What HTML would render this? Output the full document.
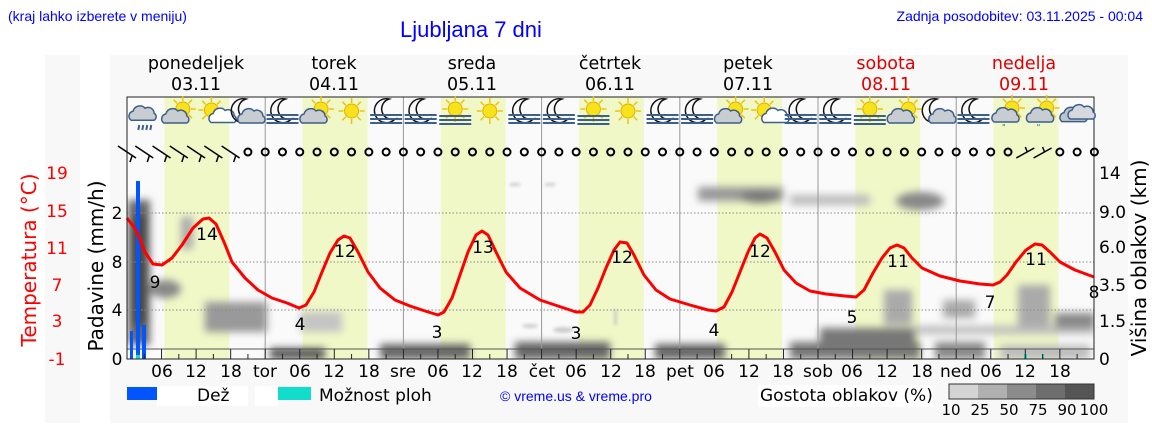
<!DOCTYPE html>
<html><head><meta charset="utf-8">
<style>
html,body{margin:0;padding:0;background:#fff;}
svg{display:block;font-family:"DejaVu Sans","Liberation Sans",sans-serif;}
.t{font-family:"Liberation Sans",sans-serif;}
</style></head><body>
<svg width="1152" height="443" viewBox="0 0 1152 443" xmlns="http://www.w3.org/2000/svg">
<defs>
<filter id="bl" x="-30%" y="-30%" width="160%" height="160%"><feGaussianBlur stdDeviation="4"/></filter>
<filter id="bl2" x="-30%" y="-30%" width="160%" height="160%"><feGaussianBlur stdDeviation="1.5"/></filter>
<clipPath id="pc"><rect x="127" y="97" width="967" height="262"/></clipPath>
</defs>
<rect x="0" y="0" width="1152" height="443" fill="#fff"/>
<rect x="45" y="55" width="35" height="368" fill="#f8f8f8"/>
<rect x="110" y="55" width="1018" height="368" fill="#f8f8f8"/>
<text x="8" y="21" class="t" font-size="14" fill="#0000ff">(kraj lahko izberete v meniju)</text>
<text x="400" y="37" class="t" font-size="22" fill="#0000ff">Ljubljana 7 dni</text>
<text x="1143" y="21" class="t" font-size="14" fill="#0000ff" text-anchor="end">Zadnja posodobitev: 03.11.2025 - 00:04</text>
<g font-size="17.5" text-anchor="middle" fill="#000">
<text x="196" y="69">ponedeljek</text><text x="196" y="90">03.11</text>
<text x="334" y="69">torek</text><text x="334" y="90">04.11</text>
<text x="472" y="69">sreda</text><text x="472" y="90">05.11</text>
<text x="610" y="69">četrtek</text><text x="610" y="90">06.11</text>
<text x="748" y="69">petek</text><text x="748" y="90">07.11</text>
<text x="886" y="69" fill="#e00000">sobota</text><text x="886" y="90" fill="#e00000">08.11</text>
<text x="1024" y="69" fill="#e00000">nedelja</text><text x="1024" y="90" fill="#e00000">09.11</text>
</g>
<rect x="127" y="97" width="967" height="262" fill="#fafafa"/>
<g fill="#f0f8c8" id="yb"></g>
<g clip-path="url(#pc)">
<g filter="url(#bl)">
<rect x="128" y="200" width="22" height="145" fill="#666"/>
<rect x="132" y="215" width="14" height="110" fill="#444"/>
<ellipse cx="165" cy="289" rx="16" ry="9" fill="#888"/>
<rect x="181" y="217" width="12" height="32" fill="#aaa"/>
<rect x="205" y="302" width="62" height="30" fill="#999"/>
<rect x="300" y="312" width="42" height="20" fill="#c4c4c4"/>
<rect x="698" y="187" width="85" height="14" fill="#999"/>
<ellipse cx="760" cy="197" rx="20" ry="6" fill="#777"/>
<rect x="790" y="195" width="80" height="10" fill="#bbb"/>
<ellipse cx="920" cy="201" rx="24" ry="9" fill="#888"/>
<rect x="884" y="290" width="28" height="35" fill="#aaa"/>
<rect x="943" y="300" width="32" height="18" fill="#aaa"/>
<rect x="1018" y="285" width="32" height="45" fill="#aaa"/>
<rect x="820" y="328" width="95" height="20" fill="#777"/>
<rect x="915" y="326" width="180" height="8" fill="#bbb"/>
<rect x="1055" y="313" width="40" height="15" fill="#888"/>
<rect x="270" y="348" width="55" height="11" fill="#555"/>
<rect x="380" y="344" width="90" height="15" fill="#666"/>
<rect x="515" y="342" width="95" height="17" fill="#666"/>
<rect x="655" y="344" width="70" height="15" fill="#666"/>
<rect x="790" y="342" width="130" height="17" fill="#777"/>
<rect x="935" y="342" width="50" height="17" fill="#888"/>
<rect x="1000" y="345" width="90" height="14" fill="#bbb"/>
</g>
<g filter="url(#bl2)" fill="#ccc">
<rect x="510" y="183" width="10" height="3"/><rect x="545" y="183" width="10" height="3"/>
<ellipse cx="530" cy="326" rx="8" ry="2"/><ellipse cx="563" cy="330" rx="10" ry="3"/>
<rect x="614" y="309" width="3" height="16"/>
</g>
</g>
<g stroke="#888" stroke-dasharray="1.5,2" stroke-width="1">
<line x1="127" y1="213" x2="1094" y2="213"/><line x1="127" y1="262" x2="1094" y2="262"/><line x1="127" y1="310" x2="1094" y2="310"/>
</g>
<g stroke="#999" stroke-width="1" id="vl"></g>
<line x1="127" y1="349" x2="1094" y2="349" stroke="#555"/>
<rect x="130" y="331" width="3" height="28" fill="#0055ff"/>
<rect x="136" y="181" width="4" height="178" fill="#0055ff"/>
<rect x="142" y="325" width="4" height="34" fill="#0055ff"/>
<rect x="136" y="355" width="4" height="4" fill="#11ddcc"/>
<rect x="1024" y="354" width="3" height="5" fill="#11ddcc"/>
<rect x="1042" y="354" width="2" height="5" fill="#11ddcc"/>
<polyline fill="none" stroke="#ff0000" stroke-width="3" stroke-linejoin="round" points="127,218 136,230 145,252 153,264 162,265 172,258 182,245 193,228 203,219 209,218 216,224 224,242 232,262 245,278 258,290 272,298 287,303 299,308 306,305 314,292 322,272 330,253 338,240 344,236 350,238 358,252 368,272 380,288 395,300 410,306 425,311 438,315 444,312 452,298 460,275 468,252 476,235 482,231 488,235 496,252 506,272 520,288 540,300 558,306 576,312 583,312 590,305 598,288 606,268 614,250 620,242 627,243 634,255 644,275 656,290 670,299 690,305 708,310 716,311 724,307 732,292 740,272 748,252 755,238 760,234 767,238 775,252 784,270 796,283 810,291 826,294 845,296 856,297 864,290 873,273 882,258 890,248 897,245 904,248 912,258 922,268 940,276 960,281 980,284 993,285 1000,282 1007,275 1016,262 1026,250 1035,244 1042,245 1050,252 1060,262 1075,270 1094,277"/>
<g font-size="17" text-anchor="middle" fill="#000">
<text x="207" y="240">14</text><text x="345" y="257">12</text><text x="483" y="253">13</text><text x="622" y="263">12</text><text x="760" y="257">12</text><text x="898" y="267">11</text><text x="1036" y="265">11</text>
<text x="155" y="288">9</text><text x="300" y="330">4</text><text x="437" y="338">3</text><text x="576" y="339">3</text><text x="714" y="336">4</text><text x="852" y="323">5</text><text x="990" y="308">7</text><text x="1094" y="298">8</text>
</g>
<rect x="127" y="97" width="967" height="262" fill="none" stroke="#222" stroke-width="1"/>
<g stroke="#222" id="tk"></g>
<g font-size="17" fill="#ff0000" text-anchor="middle">
<text x="57" y="179">19</text><text x="57" y="217">15</text><text x="57" y="254">11</text><text x="57" y="291">7</text><text x="57" y="327">3</text><text x="57" y="365">-1</text>
</g>
<text transform="translate(36,260) rotate(-90)" font-size="20" fill="#ff0000" text-anchor="middle">Temperatura (°C)</text>
<g font-size="17" fill="#000" text-anchor="middle">
<text x="117" y="219">2</text><text x="117" y="268">8</text><text x="117" y="316">4</text><text x="117" y="365">0</text>
</g>
<text transform="translate(103,266) rotate(-90)" font-size="20" fill="#000" text-anchor="middle">Padavine (mm/h)</text>
<g font-size="17" fill="#000">
<text x="1099" y="179">14</text><text x="1099" y="218">9.0</text><text x="1099" y="253">6.0</text><text x="1099" y="291">3.5</text><text x="1099" y="327">1.5</text><text x="1099" y="365">0</text>
</g>
<text transform="translate(1146,258) rotate(-90)" font-size="20" fill="#000" text-anchor="middle">Višina oblakov (km)</text>
<g font-size="17" fill="#000" text-anchor="middle">
<text x="162" y="377">06</text><text x="196" y="377">12</text><text x="231" y="377">18</text><text x="265" y="377">tor</text>
<text x="300" y="377">06</text><text x="334" y="377">12</text><text x="369" y="377">18</text><text x="403" y="377">sre</text>
<text x="438" y="377">06</text><text x="472" y="377">12</text><text x="507" y="377">18</text><text x="542" y="377">čet</text>
<text x="576" y="377">06</text><text x="611" y="377">12</text><text x="645" y="377">18</text><text x="680" y="377">pet</text>
<text x="714" y="377">06</text><text x="749" y="377">12</text><text x="783" y="377">18</text><text x="818" y="377">sob</text>
<text x="852" y="377">06</text><text x="887" y="377">12</text><text x="922" y="377">18</text><text x="956" y="377">ned</text>
<text x="991" y="377">06</text><text x="1025" y="377">12</text><text x="1060" y="377">18</text>
</g>
<rect x="127" y="387" width="61" height="13" fill="#0055ff"/>
<rect x="157" y="386" width="91" height="20" fill="#fff"/>
<text x="197" y="401" font-size="17">Dež</text>
<rect x="255" y="386" width="23" height="20" fill="#fff"/>
<rect x="278" y="387" width="33" height="13" fill="#11ddcc"/>
<text x="319" y="401" font-size="17">Možnost ploh</text>
<text x="500" y="401" class="t" font-size="14" fill="#0000ff">© vreme.us &amp; vreme.pro</text>
<rect x="758" y="385" width="175" height="22" fill="#fff"/>
<text x="760" y="401" font-size="17">Gostota oblakov (%)</text>
<rect x="949" y="384" width="29" height="15" fill="#d4d4d4"/><rect x="978" y="384" width="29" height="15" fill="#b0b0b0"/><rect x="1007" y="384" width="29" height="15" fill="#8c8c8c"/><rect x="1036" y="384" width="29" height="15" fill="#6e6e6e"/><rect x="1065" y="384" width="29" height="15" fill="#555"/>
<rect x="949" y="384" width="145" height="15" fill="none" stroke="#333"/>
<g font-size="15" text-anchor="middle"><text x="951" y="415">10</text><text x="980" y="415">25</text><text x="1009" y="415">50</text><text x="1038" y="415">75</text><text x="1067" y="415">90</text><text x="1094" y="415">100</text></g>
<g id="ic"></g>
<g id="wd" fill="none" stroke="#000" stroke-width="2"></g>
<script>
var D=138.2,X0=127,ns="http://www.w3.org/2000/svg";
function el(p,t,a){var e=document.createElementNS(ns,t);for(var k in a)e.setAttribute(k,a[k]);document.getElementById(p).appendChild(e);return e;}
for(var d=0;d<7;d++){el("yb","rect",{x:X0+D*d+D*0.27,y:97,width:D*0.47,height:262});
 if(d>0)el("vl","line",{x1:X0+D*d,y1:97,x2:X0+D*d,y2:359});}
for(var k=1;k<56;k++){var x=X0+D*k/8;el("tk","line",{x1:x,y1:359,x2:x,y2:k%2?354:349});}
for(var k=0;k<57;k++){var x=X0+D*k/8;
 if(k<7){el("wd","line",{x1:x-9,y1:146,x2:x+9,y2:158,"stroke-width":1.5});el("wd","line",{x1:x+5,y1:156,x2:x+3,y2:162,"stroke-width":1.5});}
 else if(k==52||k==53){el("wd","line",{x1:x-9,y1:158,x2:x+9,y2:148,"stroke-width":1.5});el("wd","line",{x1:x+2,y1:152,x2:x,y2:147,"stroke-width":1.5});}
 else el("wd","circle",{cx:x,cy:152,r:3.5});}
var T="R,SC,Sc,MC,MF,SC,S,MF,MF,SF,S,MF,MF,SF,S,MF,MF,SC,Sc,MF,MF,SF,SC,MC,MF,SR,SR,C".split(",");
function sun(x,y){for(var a=0;a<8;a++){var r=a*Math.PI/4;el("ic","line",{x1:x+Math.cos(r)*8,y1:y+Math.sin(r)*8,x2:x+Math.cos(r)*13,y2:y+Math.sin(r)*13,stroke:"#f2c200","stroke-width":1.5});}
 el("ic","circle",{cx:x,cy:y,r:7,fill:"#f7e21b",stroke:"#e0b000"});}
function cloud(x,y,s,f){el("ic","path",{d:"M"+(x-11*s)+","+(y+6*s)+" a5,5 0 0 1 2,-9 a7,7 0 0 1 12,-3 a6,6 0 0 1 9,5 a4,4 0 0 1 0,7 z",fill:f||"#c8cdd2",stroke:"#3d5f8c","stroke-width":1.5});}
function moon(x,y){el("ic","path",{d:"M"+(x+3)+","+(y-12)+" a12,12 0 1 0 6,20 a10,10 0 0 1 -6,-20 z",fill:"none",stroke:"#111","stroke-width":1.5});}
function fog(x,y){for(var i=0;i<3;i++)el("ic","rect",{x:x-16,y:y+i*4,width:32,height:2,fill:"#3d5f8c"});}
for(var i=0;i<28;i++){var x=X0+34.55*(i+0.5),y=113,t=T[i];
 if(t=="S")sun(x,y-2);
 else if(t=="SC"){sun(x+4,y-4);cloud(x-4,y+4,1,"#c8cdd2");}
 else if(t=="Sc"){sun(x-2,y-3);cloud(x+6,y+5,0.75,"#fff");}
 else if(t=="SF"){sun(x,y-4);fog(x,y+2);}
 else if(t=="MF"){moon(x,y-2);fog(x,y+1);}
 else if(t=="MC"){moon(x-5,y-2);cloud(x+3,y+4,1);}
 else if(t=="SR"){sun(x+4,y-5);cloud(x-3,y+3,1);el("ic","text",{x:x-6,y:y+17,"font-size":8,fill:"#3d5f8c"}).textContent="\"";}
 else if(t=="R"){cloud(x,y,1.2);for(var j=0;j<4;j++)el("ic","line",{x1:x-5+j*4,y1:y+12,x2:x-6+j*4,y2:y+17,stroke:"#3d5f8c","stroke-width":2});}
 else if(t=="C"){cloud(x-3,y+2,1.1,"#bfc4c9");cloud(x+4,y,1,"#d5d9dd");}
}
</script>
</svg>
</body></html>
